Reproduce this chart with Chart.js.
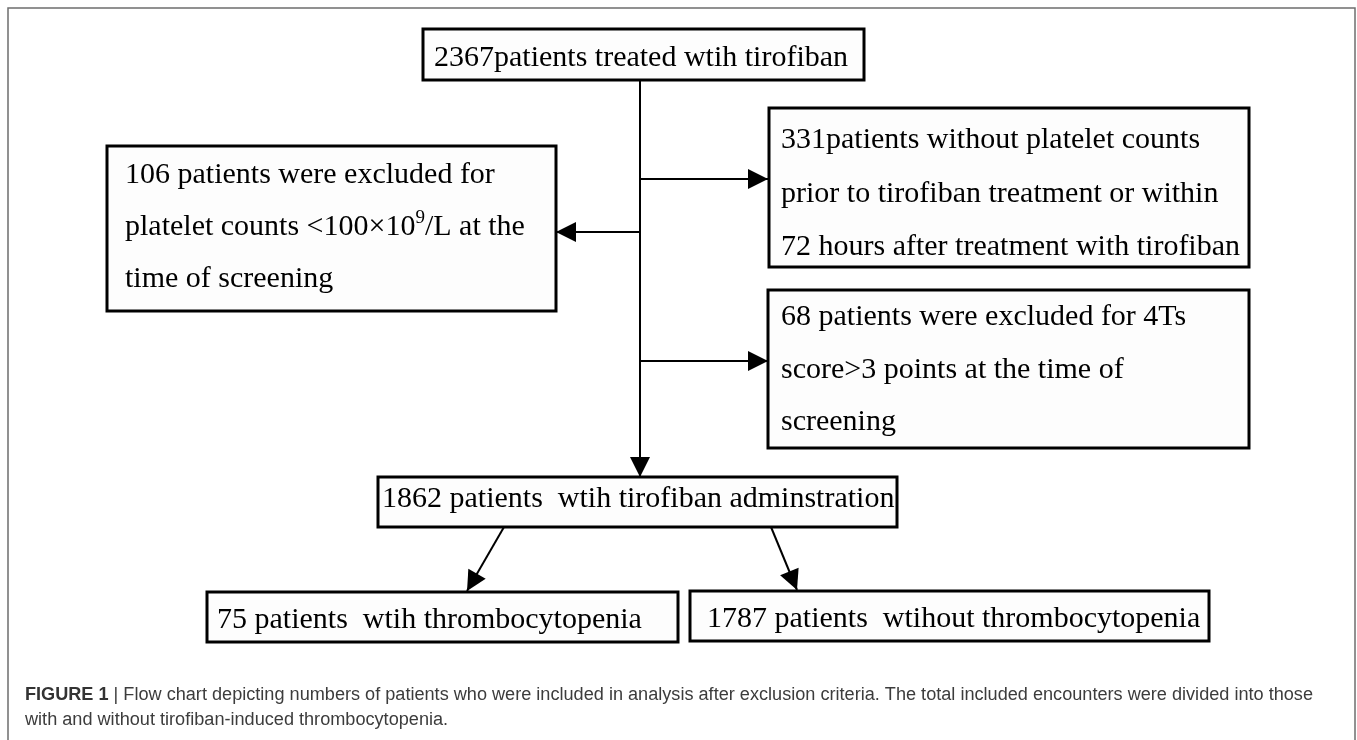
<!DOCTYPE html>
<html>
<head>
<meta charset="utf-8">
<title>Flow chart</title>
<script src="https://cdn.jsdelivr.net/npm/chart.js@4.4.1/dist/chart.umd.min.js"></script>
<style>
  html, body { margin: 0; padding: 0; background: #fff; }
  #wrap { position: relative; width: 1357px; height: 740px; }
</style>
</head>
<body>
<div id="wrap"><canvas id="flowChart"></canvas></div>
<script>
// patient numbers at each step
const totalTreated = 2367;
const noPlateletCounts = 331;
const lowBaseline = 106;
const high4Ts = 68;
const included = 1862;
const withTCP = 75;
const withoutTCP = 1787;

// box texts, one entry per line (^ = superscript digit)
const boxTexts = [
  [`${totalTreated}patients treated wtih tirofiban`],
  [`${noPlateletCounts}patients without platelet counts`, 'prior to tirofiban treatment or within', '72 hours after treatment with tirofiban'],
  [`${lowBaseline} patients were excluded for`, 'platelet counts <100×10^9/L at the', 'time of screening'],
  [`${high4Ts} patients were excluded for 4Ts`, 'score>3 points at the time of', 'screening'],
  [`${included} patients  wtih tirofiban adminstration`],
  [`${withTCP} patients  wtih thrombocytopenia`],
  [`${withoutTCP} patients  wtihout thrombocytopenia`]
];

const captionBold = 'FIGURE 1';
const captionLines = [
  ' | Flow chart depicting numbers of patients who were included in analysis after exclusion criteria. The total included encounters were divided into those',
  'with and without tirofiban-induced thrombocytopenia.'
];

// layout (page units, y down) - kept apart from the data
const boxLayout = [
  { x0: 423, y0: 29, x1: 864, y1: 80, tx: 434, base: [66] },
  { x0: 769, y0: 108, x1: 1249, y1: 267, tx: 781, base: [148, 202, 255] },
  { x0: 107, y0: 146, x1: 556, y1: 311, tx: 125, base: [183, 235, 287] },
  { x0: 768, y0: 290, x1: 1249, y1: 448, tx: 781, base: [325, 378, 430] },
  { x0: 378, y0: 477, x1: 897, y1: 527, tx: 382, base: [507] },
  { x0: 207, y0: 592, x1: 678, y1: 642, tx: 217, base: [628] },
  { x0: 690, y0: 591, x1: 1209, y1: 641, tx: 707, base: [627] }
];
const links = [
  [{x: 640, y: 80}, {x: 640, y: 477}],
  [{x: 640, y: 179}, {x: 768, y: 179}],
  [{x: 640, y: 232}, {x: 556, y: 232}],
  [{x: 640, y: 361}, {x: 768, y: 361}],
  [{x: 504, y: 527}, {x: 467, y: 591}],
  [{x: 771, y: 527}, {x: 797, y: 590}]
];

const BOX_FONT = '30px "Liberation Serif", "Times New Roman", serif';
const SUP_FONT = '19px "Liberation Serif", "Times New Roman", serif';
const CAP_FONT = '18px "Liberation Sans", Arial, sans-serif';
const CAP_BOLD = 'bold 18px "Liberation Sans", Arial, sans-serif';

function drawRich(ctx, str, px, py) {
  const parts = str.split(/\^(\d)/);
  let cx = px;
  parts.forEach((p, k) => {
    const sup = k % 2 === 1;
    ctx.font = sup ? SUP_FONT : BOX_FONT;
    ctx.fillText(p, cx, sup ? py - 12 : py);
    cx += ctx.measureText(p).width;
  });
}

const flowPlugin = {
  id: 'flow',
  beforeDatasetsDraw(chart) {
    const { ctx, scales: { x, y } } = chart;
    ctx.save();
    ctx.fillStyle = '#fff';
    ctx.fillRect(0, 0, chart.width, chart.height);
    ctx.strokeStyle = '#6e6e6e';
    ctx.lineWidth = 1.5;
    ctx.strokeRect(x.getPixelForValue(8), y.getPixelForValue(8),
      x.getPixelForValue(1355) - x.getPixelForValue(8), y.getPixelForValue(770) - y.getPixelForValue(8));
    ctx.restore();
  },
  afterDatasetsDraw(chart) {
    const { ctx, scales: { x, y } } = chart;
    ctx.save();
    // boxes
    boxLayout.forEach((b, i) => {
      const px0 = x.getPixelForValue(b.x0), px1 = x.getPixelForValue(b.x1);
      const py0 = y.getPixelForValue(b.y0), py1 = y.getPixelForValue(b.y1);
      ctx.fillStyle = '#fdfdfd';
      ctx.fillRect(px0, py0, px1 - px0, py1 - py0);
      ctx.strokeStyle = '#000';
      ctx.lineWidth = 3;
      ctx.strokeRect(px0, py0, px1 - px0, py1 - py0);
      ctx.fillStyle = '#000';
      ctx.textBaseline = 'alphabetic';
      boxTexts[i].forEach((t, j) => drawRich(ctx, t, x.getPixelForValue(b.tx), y.getPixelForValue(b.base[j])));
    });
    // arrow heads at the end of every link
    chart.data.datasets.forEach((ds, i) => {
      const pts = chart.getDatasetMeta(i).data;
      const a = pts[pts.length - 2], b = pts[pts.length - 1];
      const ang = Math.atan2(b.y - a.y, b.x - a.x);
      ctx.save();
      ctx.translate(b.x, b.y);
      ctx.rotate(ang);
      ctx.beginPath();
      ctx.moveTo(0, 0);
      ctx.lineTo(-20, -10);
      ctx.lineTo(-20, 10);
      ctx.closePath();
      ctx.fillStyle = '#000';
      ctx.fill();
      ctx.restore();
    });
    // caption (squeezed to the width it has in the figure)
    ctx.fillStyle = '#333';
    ctx.font = CAP_BOLD;
    const wb = ctx.measureText(captionBold).width;
    ctx.font = CAP_FONT;
    const wr = ctx.measureText(captionLines[0]).width;
    const k = 1288 / (wb + wr);
    ctx.save();
    ctx.translate(x.getPixelForValue(25), y.getPixelForValue(700));
    ctx.scale(k, 1);
    ctx.font = CAP_BOLD;
    ctx.fillText(captionBold, 0, 0);
    ctx.font = CAP_FONT;
    ctx.fillStyle = '#3c3c3c';
    ctx.fillText(captionLines[0], wb, 0);
    ctx.restore();
    ctx.save();
    ctx.translate(x.getPixelForValue(25), y.getPixelForValue(725));
    ctx.scale(k, 1);
    ctx.font = CAP_FONT;
    ctx.fillStyle = '#3c3c3c';
    ctx.fillText(captionLines[1], 0, 0);
    ctx.restore();
    ctx.restore();
  }
};

new Chart(document.getElementById('flowChart'), {
  type: 'line',
  data: {
    datasets: links.map(l => ({
      data: l,
      borderColor: '#000',
      borderWidth: 2,
      pointRadius: 0,
      fill: false,
      clip: false
    }))
  },
  options: {
    responsive: true,
    maintainAspectRatio: false,
    devicePixelRatio: 1,
    animation: false,
    layout: { padding: 0 },
    plugins: { legend: { display: false }, tooltip: { enabled: false } },
    scales: {
      x: { type: 'linear', min: 0, max: 1357, display: false },
      y: { type: 'linear', min: 0, max: 740, reverse: true, display: false }
    }
  },
  plugins: [flowPlugin]
});
</script>
</body>
</html>
